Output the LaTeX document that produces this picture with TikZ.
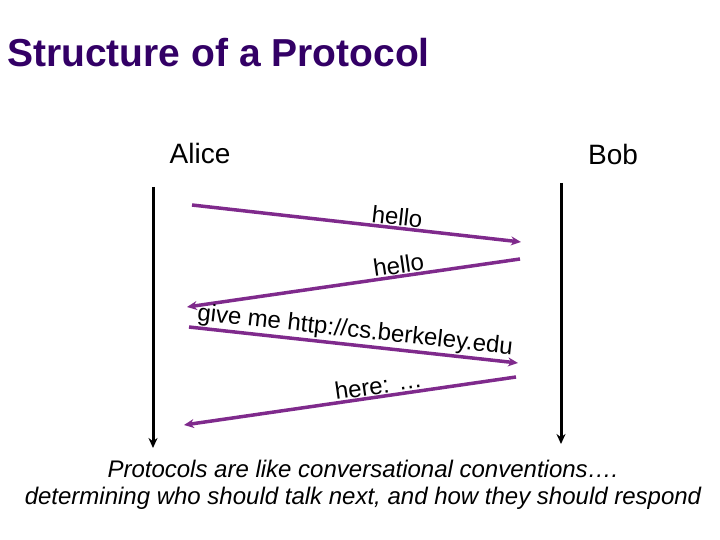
\documentclass[tikz,border=0pt]{standalone}
\usepackage{fontspec}
\setmainfont{Liberation Sans}
\usetikzlibrary{arrows.meta}
\definecolor{titlepurple}{HTML}{330066}
\definecolor{msgpurple}{HTML}{7F2A8C}
\tikzset{
  lifeline/.style={line width=3pt,-{Stealth[length=10pt,width=9pt]}},
  msg/.style={draw=msgpurple,line width=3.5pt,-{Stealth[length=10pt,width=9pt]}},
  msglabel/.style={font=\fontsize{24}{28}\selectfont,sloped,above,inner sep=1pt},
  party/.style={font=\fontsize{28}{32}\selectfont,anchor=base,inner sep=0pt}
}
\begin{document}
\begin{tikzpicture}[x=1pt,y=-1pt]
  \useasboundingbox (0,0) rectangle (720,540);
  % title
  \node[anchor=base west,inner sep=0pt,text=titlepurple,font=\fontsize{39}{45}\selectfont\bfseries] (title) at (7,67) {Structure of a Protocol};

  % the two parties
  \node[party] (alice) at (200,164) {Alice};
  \node[party] (bob) at (613,165) {Bob};

  % time lines
  \coordinate (alicetop) at (153,187);
  \coordinate (alicebot) at (153,448);
  \coordinate (bobtop) at (561,183);
  \coordinate (bobbot) at (561,444);
  \draw[lifeline] (alicetop) -- (alicebot);
  \draw[lifeline] (bobtop) -- (bobbot);

  % messages
  \coordinate (a1) at (192,205);
  \coordinate (b1) at (521,242);
  \coordinate (b2) at (520,259);
  \coordinate (a2) at (187,307);
  \coordinate (a3) at (189,327);
  \coordinate (b3) at (518,363);
  \coordinate (b4) at (516,377);
  \coordinate (a4) at (184,425);
  \draw[msg] (a1) -- node[msglabel,pos=0.62] {hello} (b1);
  \draw[msg] (b2) -- node[msglabel,pos=0.36] {hello} (a2);
  \draw[msg] (a3) -- node[msglabel,pos=0.5] {give me http://cs.berkeley.edu} (b3);
  \draw[msg] (b4) -- node[msglabel,pos=0.41] {here: …} (a4);

  % caption
  \node[anchor=base,inner sep=0pt,font=\fontsize{24}{28}\selectfont\itshape] (note1) at (363,477) {Protocols are like conversational conventions….};
  \node[anchor=base,inner sep=0pt,font=\fontsize{24}{28}\selectfont\itshape] (note2) at (363,504) {determining who should talk next, and how they should respond};
\end{tikzpicture}
\end{document}
